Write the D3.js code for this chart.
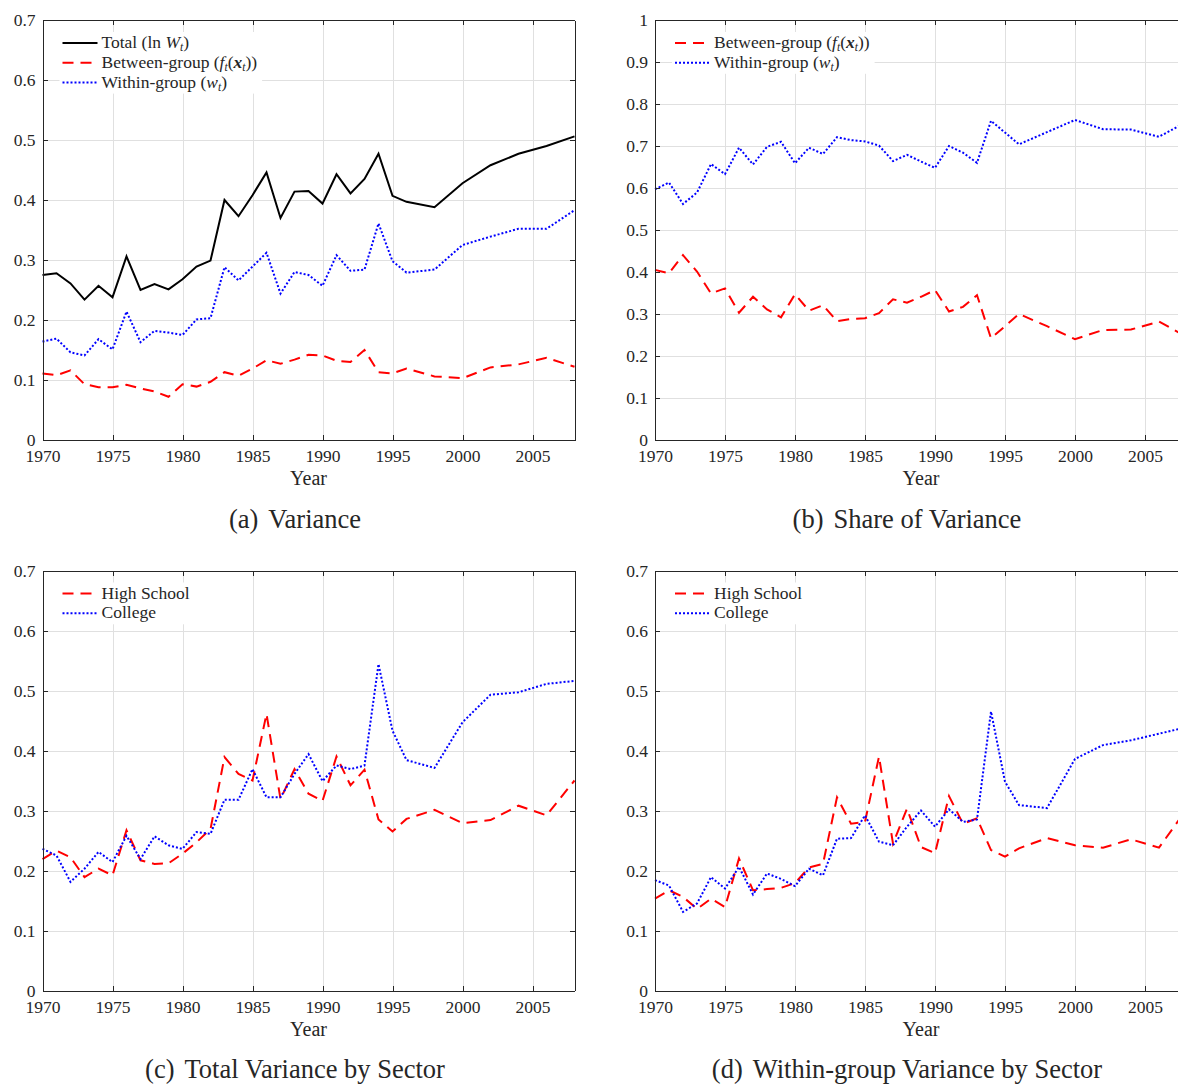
<!DOCTYPE html>
<html><head><meta charset="utf-8">
<script src="https://cdn.jsdelivr.net/npm/d3@7"></script>
<style>
html,body{margin:0;padding:0;background:#fff;overflow:hidden}
svg{display:block}
text{font-family:"Liberation Serif","Times New Roman",serif;fill:#262626}
</style></head><body>
<svg id="chart" width="1178" height="1084"></svg>
<script>
// ---------- data ----------
const years = [1970,1971,1972,1973,1974,1975,1976,1977,1978,1979,
  1980,1981,1982,1983,1984,1985,1986,1987,1988,1989,
  1990,1991,1992,1993,1994,1995,1996,1998,2000,2002,2004,2006,2008];

// (a) Variance
const totalVar = [0.275,0.278,0.261,0.234,0.257,0.238,0.306,0.250,0.260,0.251,
  0.268,0.289,0.299,0.400,0.373,0.408,0.446,0.370,0.414,0.415,
  0.394,0.443,0.411,0.435,0.477,0.407,0.397,0.388,0.428,0.458,0.477,0.490,0.506];
const betweenVar = [0.111,0.108,0.116,0.093,0.088,0.088,0.092,0.086,0.081,0.072,
  0.093,0.089,0.097,0.113,0.107,0.119,0.133,0.127,0.134,0.142,
  0.141,0.132,0.130,0.150,0.113,0.111,0.119,0.106,0.103,0.121,0.126,0.137,0.122];
const withinVar = [0.164,0.169,0.146,0.141,0.168,0.151,0.214,0.163,0.182,0.179,
  0.175,0.201,0.203,0.288,0.266,0.289,0.312,0.244,0.280,0.275,
  0.257,0.308,0.282,0.284,0.361,0.298,0.279,0.284,0.325,0.339,0.352,0.352,0.383];

// (b) Share of variance
const betweenShare = [0.405,0.397,0.440,0.401,0.349,0.361,0.303,0.341,0.311,0.292,
  0.347,0.308,0.321,0.283,0.288,0.290,0.302,0.335,0.327,0.341,
  0.357,0.306,0.317,0.345,0.242,0.271,0.300,0.271,0.240,0.262,0.263,0.282,0.245];
const withinShare = [0.597,0.613,0.562,0.589,0.657,0.633,0.696,0.656,0.698,0.710,
  0.659,0.696,0.681,0.721,0.714,0.711,0.701,0.664,0.679,0.663,
  0.648,0.700,0.684,0.660,0.760,0.732,0.704,0.733,0.762,0.740,0.739,0.722,0.758];

// (c) Total variance by sector
const hsTotal = [0.219,0.233,0.222,0.189,0.203,0.192,0.267,0.217,0.211,0.212,
  0.228,0.247,0.269,0.389,0.361,0.350,0.461,0.319,0.369,0.328,
  0.316,0.390,0.342,0.368,0.285,0.265,0.286,0.301,0.279,0.284,0.308,0.292,0.350];
const colTotal = [0.236,0.225,0.181,0.203,0.231,0.214,0.258,0.219,0.257,0.242,
  0.236,0.264,0.261,0.318,0.318,0.369,0.322,0.322,0.361,0.394,
  0.349,0.375,0.369,0.375,0.544,0.433,0.384,0.371,0.447,0.493,0.497,0.511,0.516];

// (d) Within-group variance by sector
const hsWithin = [0.153,0.167,0.156,0.136,0.153,0.139,0.220,0.167,0.169,0.171,
  0.179,0.205,0.211,0.322,0.278,0.281,0.390,0.245,0.303,0.239,
  0.229,0.324,0.278,0.287,0.234,0.223,0.237,0.254,0.242,0.238,0.252,0.238,0.303];
const colWithin = [0.184,0.175,0.131,0.145,0.189,0.170,0.206,0.160,0.195,0.186,
  0.174,0.203,0.192,0.253,0.254,0.292,0.248,0.242,0.273,0.300,
  0.273,0.302,0.281,0.285,0.465,0.348,0.309,0.304,0.386,0.409,0.417,0.428,0.439];

const xTicks = [1970,1975,1980,1985,1990,1995,2000,2005];
const yTicks07 = [0,0.1,0.2,0.3,0.4,0.5,0.6,0.7];
const yTicks10 = [0,0.1,0.2,0.3,0.4,0.5,0.6,0.7,0.8,0.9,1];

// legend labels (segments: text, italic, bold, sub)
const lblTotal = [{t:"Total ("},{t:"ln "},{t:"W",i:1},{t:"t",i:1,s:1},{t:")"}];
const lblBetween = [{t:"Between-group ("},{t:"f",i:1},{t:"t",i:1,s:1},{t:"("},{t:"x",i:1,b:1},{t:"t",i:1,s:1},{t:"))"}];
const lblWithin = [{t:"Within-group ("},{t:"w",i:1},{t:"t",i:1,s:1},{t:")"}];
const lblHS = [{t:"High School"}];
const lblCol = [{t:"College"}];

// ---------- styles ----------
const FONT = '"Liberation Serif","Times New Roman",serif';
const styleSolid = {color:"#000000", dash:null, width:2};
const styleDash = {color:"#ff0000", dash:"11,7", width:2};
const styleDot = {color:"#0000ff", dash:"2,2", width:2};

const W = 532, H = 420;
const panels = [
  {left:42.5, top:20, yMax:0.7, yTicks:yTicks07,
   series:[{v:totalVar, st:styleSolid, l:lblTotal},{v:betweenVar, st:styleDash, l:lblBetween},{v:withinVar, st:styleDot, l:lblWithin}],
   cap:"(a)", capText:"Variance", capX:295, capY:528},
  {left:655, top:20, yMax:1, yTicks:yTicks10,
   series:[{v:betweenShare, st:styleDash, l:lblBetween},{v:withinShare, st:styleDot, l:lblWithin}],
   cap:"(b)", capText:"Share of Variance", capX:907, capY:528},
  {left:42.5, top:570.5, yMax:0.7, yTicks:yTicks07,
   series:[{v:hsTotal, st:styleDash, l:lblHS},{v:colTotal, st:styleDot, l:lblCol}],
   cap:"(c)", capText:"Total Variance by Sector", capX:295, capY:1078},
  {left:655, top:570.5, yMax:0.7, yTicks:yTicks07,
   series:[{v:hsWithin, st:styleDash, l:lblHS},{v:colWithin, st:styleDot, l:lblCol}],
   cap:"(d)", capText:"Within-group Variance by Sector", capX:907, capY:1078}
];

const svg = d3.select("#chart");
const AX = "#262626";
const fmtY = d => String(+d.toFixed(1));

panels.forEach(p => {
  const g = svg.append("g").attr("transform", `translate(${p.left},${p.top})`);
  const x = d3.scaleLinear().domain([1970, 2008]).range([0, W]);
  const y = d3.scaleLinear().domain([0, p.yMax]).range([H, 0]);

  // grid
  g.append("g").attr("transform", `translate(0,${H})`)
    .call(d3.axisBottom(x).tickValues(xTicks).tickSize(-H).tickFormat(""))
    .call(s => s.select(".domain").remove())
    .selectAll("line").attr("stroke", "#e0e0e0").attr("shape-rendering", "crispEdges");
  g.append("g")
    .call(d3.axisLeft(y).tickValues(p.yTicks).tickSize(-W).tickFormat(""))
    .call(s => s.select(".domain").remove())
    .selectAll("line").attr("stroke", "#e0e0e0").attr("shape-rendering", "crispEdges");

  // lines
  const line = d3.line().x((d, i) => x(years[i])).y(d => y(d));
  p.series.forEach(s => {
    g.append("path").datum(s.v)
      .attr("fill", "none").attr("stroke", s.st.color).attr("stroke-width", s.st.width)
      .attr("stroke-dasharray", s.st.dash).attr("stroke-linejoin", "miter")
      .attr("d", line);
  });

  // axes
  const ax = (sel) => {
    sel.attr("font-family", FONT).attr("font-size", 17.5);
    sel.selectAll(".domain").attr("stroke", AX).attr("shape-rendering", "crispEdges");
    sel.selectAll(".tick line").attr("stroke", AX).attr("shape-rendering", "crispEdges");
    sel.selectAll("text").attr("fill", AX).style("font-size", "17.5px").style("font-family", FONT);
  };
  g.append("g").attr("transform", `translate(0,${H})`)
    .call(d3.axisBottom(x).tickValues(xTicks).tickSize(-5).tickSizeOuter(0).tickPadding(10).tickFormat(d3.format("d")))
    .call(ax);
  g.append("g")
    .call(d3.axisTop(x).tickValues(xTicks).tickSize(-5).tickSizeOuter(0).tickFormat(""))
    .call(ax);
  g.append("g")
    .call(d3.axisLeft(y).tickValues(p.yTicks).tickSize(-5).tickSizeOuter(0).tickPadding(7).tickFormat(fmtY))
    .call(ax);
  g.append("g").attr("transform", `translate(${W},0)`)
    .call(d3.axisRight(y).tickValues(p.yTicks).tickSize(-5).tickSizeOuter(0).tickFormat(""))
    .call(ax);

  // axis label
  g.append("text").attr("x", W / 2).attr("y", H + 45).attr("text-anchor", "middle")
    .style("font-size", "20px").text("Year");

  // legend
  const lg = g.append("g");
  const bg = lg.append("rect").attr("fill", "#fff");
  let maxR = 0;
  p.series.forEach((s, k) => {
    const cy = 23 + k * 19.8;
    lg.append("line").attr("x1", 20).attr("x2", 55).attr("y1", cy).attr("y2", cy)
      .attr("stroke", s.st.color).attr("stroke-width", s.st.width).attr("stroke-dasharray", s.st.dash);
    const t = lg.append("text").attr("x", 59).attr("y", cy + 5).style("font-size", "17.5px");
    let sub = false;
    s.l.forEach(seg => {
      const ts = t.append("tspan").text(seg.t);
      if (seg.i) ts.attr("font-style", "italic");
      if (seg.b) ts.attr("font-weight", "bold");
      if (seg.s && !sub) { ts.attr("dy", 3).style("font-size", "11.5px"); sub = true; }
      else if (seg.s) { ts.style("font-size", "11.5px"); }
      else if (sub) { ts.attr("dy", -3); sub = false; }
    });
    maxR = Math.max(maxR, 59 + t.node().getComputedTextLength());
  });
  const n = p.series.length;
  bg.attr("x", 17).attr("y", 12).attr("width", maxR - 17 + 5).attr("height", (n - 1) * 19.8 + 22);

  // caption
  const c = svg.append("text").attr("x", p.capX).attr("y", p.capY).attr("text-anchor", "middle")
    .style("font-size", "26.5px").attr("fill", "#000");
  c.append("tspan").text(p.cap);
  c.append("tspan").attr("dx", 10).text(p.capText);
});
</script>
</body></html>
